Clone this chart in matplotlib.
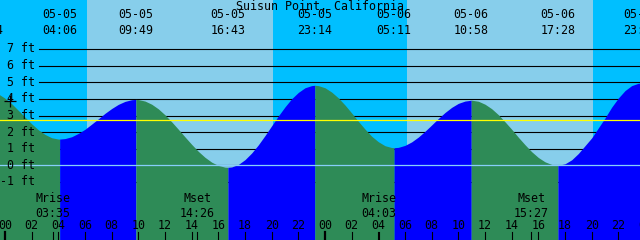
import numpy as np
import matplotlib
matplotlib.use("Agg")
import matplotlib.pyplot as plt
import matplotlib.transforms as mtransforms

title = "Suisun Point, California"

# high / low tides: day index (0 = 05-05), date, time, height in ft
ext_day = [-1, 0, 0, 0, 0, 1, 1, 1, 1]
ext_dates = ["05-04", "05-05", "05-05", "05-05", "05-05", "05-06", "05-06", "05-06", "05-06"]
ext_times = ["22:34", "04:06", "09:49", "16:43", "23:14", "05:11", "10:58", "17:28", "23:40"]
ext_heights = [4.50, 1.58, 3.97, -0.12, 4.82, 1.06, 3.92, 0.00, 4.95]

# water level every half hour, hour -1 .. 48 from 05-05 00:00
level_heights = [4.46, 4.30, 4.04, 3.71, 3.31, 2.90, 2.50, 2.14, 1.86, 1.66,
                 1.58, 1.61, 1.72, 1.92, 2.17, 2.48, 2.80, 3.13, 3.42, 3.67,
                 3.85, 3.95, 3.96, 3.87, 3.68, 3.40, 3.04, 2.62, 2.17, 1.71,
                 1.26, 0.84, 0.48, 0.19, -0.01, -0.11, -0.10, 0.05, 0.34, 0.74,
                 1.23, 1.79, 2.38, 2.97, 3.52, 4.01, 4.39, 4.67, 4.80, 4.80,
                 4.67, 4.41, 4.06, 3.63, 3.15, 2.65, 2.18, 1.75, 1.42, 1.18,
                 1.07, 1.08, 1.20, 1.41, 1.70, 2.05, 2.43, 2.82, 3.18, 3.49,
                 3.73, 3.87, 3.92, 3.86, 3.68, 3.41, 3.05, 2.62, 2.17, 1.69,
                 1.24, 0.82, 0.47, 0.21, 0.05, 0.00, 0.09, 0.33, 0.71, 1.18,
                 1.65, 2.25, 2.85, 3.50, 4.05, 4.50, 4.80, 4.94, 4.93]
level_hours = np.arange(-1, 48.01, 0.5)

# sunrise / sunset
sun_day = [0, 1]
sunrise = ["06:09", "06:09"]
sunset = ["20:06", "20:06"]

# moon events
moon_day = [0, 0, 1, 1]
moon_names = ["Mrise", "Mset", "Mrise", "Mset"]
moon_times = ["03:35", "14:26", "04:03", "15:27"]

levels = [7, 6, 5, 4, 3, 2, 1, 0, -1]
mean_level = 2.71


def to_hours(day, hhmm):
    h, m = hhmm.split(":")
    return day * 24 + int(h) + int(m) / 60.0


ext_hours = np.array([to_hours(d, t) for d, t in zip(ext_day, ext_times)])
ext_h = np.array(ext_heights)
t_all = np.concatenate([level_hours, ext_hours])
y_all = np.concatenate([level_heights, ext_h])
order = np.argsort(t_all)
t_all, y_all = t_all[order], y_all[order]

NIGHT = "#00BFFF"
DAY = "#87CEEB"
FALL = "#2E8B57"
RISE = "#0000FF"
FONT = dict(family="DejaVu Sans Mono", fontsize=8.4, color="black")

# pixel layout: x = 5 + 13.333*h, y = 165.3 - 16.6*ft
pxh, pxf = 320 / 24.0, 16.6
x0, x1 = -5 / pxh, 635 / pxh
y0, y1 = (165.3 - 240) / pxf, 165.3 / pxf


def py(p):
    # pixel row from the top -> axes fraction
    return 1 - p / 240.0


fig = plt.figure(figsize=(6.4, 2.4), dpi=100)
ax = fig.add_axes([0, 0, 1, 1])
ax.set_xlim(x0, x1)
ax.set_ylim(y0, y1)
ax.set_axis_off()
trans = mtransforms.blended_transform_factory(ax.transData, ax.transAxes)
lab_trans = mtransforms.offset_copy(ax.get_yaxis_transform(), fig=fig,
                                    y=-3.4, units="dots")

# sky: night / day bands
rise_h = [to_hours(d, t) for d, t in zip(sun_day, sunrise)]
set_h = [to_hours(d, t) for d, t in zip(sun_day, sunset)]
ax.axvspan(x0, x1, color=NIGHT, lw=0, zorder=0)
for r, s in zip(rise_h, set_h):
    ax.axvspan(r, s, color=DAY, lw=0, zorder=0)

# level lines (behind the water)
for lv in levels:
    ax.axhline(lv, xmin=39 / 640, xmax=1, color="black", lw=0.8, zorder=1)
    ax.text(35 / 640, lv, f"{lv} ft", transform=lab_trans,
            ha="right", va="baseline", zorder=4, **FONT)

# water, green while falling, blue while rising
for i in range(len(ext_hours) - 1):
    ta, tb = ext_hours[i], ext_hours[i + 1]
    m = (t_all >= ta) & (t_all <= tb)
    col = RISE if ext_h[i + 1] > ext_h[i] else FALL
    ax.fill_between(t_all[m], y_all[m], y0, color=col, lw=0, zorder=2)

ax.axhline(0, color="#87CEFA", lw=0.9, zorder=3)
ax.axhline(mean_level, color="#FFFF00", lw=0.9, zorder=3)
ax.plot([0.34], [3.87], marker="+", ms=9, mew=0.9, color="black", zorder=4)

# labels (multi-line texts are placed by the baseline of their last line)
ax.text(0.5, py(9.5), title, transform=ax.transAxes, ha="center",
        va="baseline", zorder=5, **FONT)
for i, (th, d, t) in enumerate(zip(ext_hours, ext_dates, ext_times)):
    # the date of the earlier high is cut off at the left edge
    txt = t if i == 0 else f"{d}\n{t}"
    ax.text(th, py(34), txt, transform=trans, ha="center",
            va="baseline", linespacing=1.35, zorder=5, **FONT)

moon_h = [to_hours(d, t) for d, t in zip(moon_day, moon_times)]
for mh, name, t in zip(moon_h, moon_names, moon_times):
    ax.text(mh, py(217), f"{name}\n{t}", transform=trans, ha="center",
            va="baseline", linespacing=1.24, zorder=5, **FONT)
    ax.plot([mh, mh], [0, 8 / 240], transform=trans, color="black", lw=0.8,
            zorder=5)

for h in range(0, 49, 2):
    ax.text(h, py(229.3), f"{h % 24:02d}", transform=trans,
            ha="center", va="baseline", zorder=5, **FONT)
    ax.plot([h, h], [0, 8 / 240], transform=trans, color="black",
            lw=1.6 if h % 24 == 0 else 0.8, zorder=5)

fig.savefig("out.png", dpi=100)
